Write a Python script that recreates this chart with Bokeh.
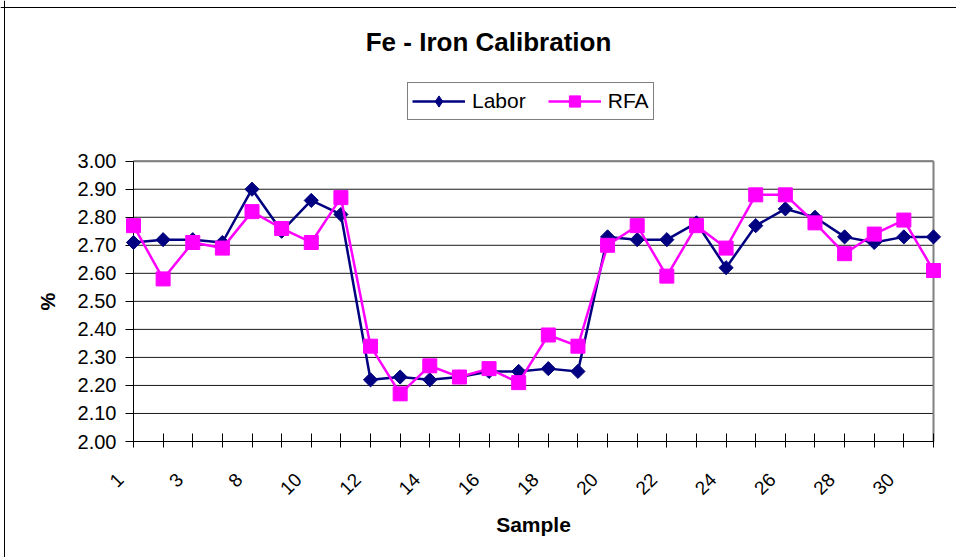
from math import pi
from bokeh.plotting import figure
from bokeh.models import (FixedTicker, NumeralTickFormatter, Label, Legend,
                          LegendItem, Range1d, Span, LinearAxis)
from bokeh.embed import file_html
from bokeh.resources import INLINE

# ---- data -------------------------------------------------------------
sample_labels = ["1", "2", "3", "7", "8", "9", "10", "11", "12", "13", "14",
                 "15", "16", "17", "18", "19", "20", "21", "22", "23", "24",
                 "25", "26", "27", "28", "29", "30", "31"]
labor = [2.71, 2.72, 2.72, 2.71, 2.90, 2.75, 2.86, 2.81, 2.22, 2.23, 2.22,
         2.23, 2.25, 2.25, 2.26, 2.25, 2.73, 2.72, 2.72, 2.78, 2.62, 2.77,
         2.83, 2.80, 2.73, 2.71, 2.73, 2.73]
rfa = [2.77, 2.58, 2.71, 2.69, 2.82, 2.76, 2.71, 2.87, 2.34, 2.17, 2.27,
       2.23, 2.26, 2.21, 2.38, 2.34, 2.70, 2.77, 2.59, 2.77, 2.69, 2.88,
       2.88, 2.78, 2.67, 2.74, 2.79, 2.61]
y_ticks = [2.00, 2.10, 2.20, 2.30, 2.40, 2.50, 2.60, 2.70, 2.80, 2.90, 3.00]
title_text = "Fe - Iron Calibration"
x_title = "Sample"
y_title = "%"

x = list(range(len(sample_labels)))
FONT = "Liberation Sans"
NAVY = "#000080"
MAGENTA = "#FF00FF"
NAN = float("nan")

# ---- layout (pixels) --------------------------------------------------
W, H = 956, 557
PA_LEFT, PA_RIGHT, PA_TOP, PA_BOTTOM = 133.0, 933.0, 160.7, 441.0
ppx = (PA_RIGHT - PA_LEFT) / (x[-1] - x[0])
ppy = (PA_BOTTOM - PA_TOP) / (y_ticks[-1] - y_ticks[0])
x_start = x[0] - PA_LEFT / ppx
x_end = x[-1] + (W - PA_RIGHT) / ppx
y_end = y_ticks[-1] + PA_TOP / ppy
y_start = y_ticks[0] - (H - PA_BOTTOM) / ppy
LABEL_SHIFT = 13 / ppx          # tick labels sit left of their tick

p = figure(width=W, height=H, output_backend="svg", toolbar_location=None,
           title=None,
           x_range=Range1d(x_start, x_end), y_range=Range1d(y_start, y_end),
           min_border=0, min_border_left=0, min_border_right=0,
           min_border_top=0, min_border_bottom=0)
p.extra_x_ranges = {"lab": Range1d(x_start + LABEL_SHIFT, x_end + LABEL_SHIFT)}
p.outline_line_color = None
p.background_fill_color = "white"
p.border_fill_color = "white"
p.xgrid.visible = False
p.ygrid.visible = False

# chart-area border (left and top visible)
p.add_layout(Span(location=4, location_units="screen", dimension="height",
                  line_color="black", line_width=1))
p.add_layout(Span(location=H - 7, location_units="screen", dimension="width",
                  line_color="black", line_width=1))

# gridlines limited to the plot area
p.segment(x0=[x[0]] * len(y_ticks), x1=[x[-1]] * len(y_ticks),
          y0=y_ticks, y1=y_ticks, line_color="#1a1a1a", line_width=1)
# plot-area border (top and right, gray)
p.segment(x0=[x[0], x[-1]], x1=[x[-1], x[-1]],
          y0=[y_ticks[-1], y_ticks[0]], y1=[y_ticks[-1], y_ticks[-1]],
          line_color="#808080", line_width=2)

r1 = p.line(x, labor, line_color=NAVY, line_width=2.5, level="overlay")
r2 = p.scatter(x, labor, marker="square", angle=pi / 4, size=10,
               fill_color=NAVY, line_color=NAVY, level="overlay")
r3 = p.line(x, rfa, line_color=MAGENTA, line_width=2.5, level="overlay")
r4 = p.scatter(x, rfa, marker="square", size=14,
               fill_color=MAGENTA, line_color=MAGENTA, level="overlay")
# legend-only swatch for the diamond marker (no visible point)
r2_leg = p.scatter(x=[NAN], y=[NAN], marker="diamond", size=14,
                   fill_color=NAVY, line_color=NAVY)

# x axis: line and ticks
xa = p.xaxis[0]
xa.fixed_location = y_ticks[0]
xa.ticker = FixedTicker(ticks=x)
xa.major_label_overrides = {i: "" for i in x}
xa.bounds = (x[0], x[-1])
xa.major_tick_in = 8
xa.major_tick_out = 6
xa.minor_tick_line_color = None
xa.axis_line_color = "black"
xa.major_tick_line_color = "black"

# x axis: rotated category labels + title
xl = LinearAxis(x_range_name="lab", fixed_location=y_ticks[0],
                ticker=FixedTicker(ticks=x),
                bounds=(x[0], x[-1] + 2 * LABEL_SHIFT))
xl.major_label_overrides = {i: (lab if i % 2 == 0 else "")
                            for i, lab in enumerate(sample_labels)}
xl.axis_line_color = None
xl.major_tick_line_color = None
xl.minor_tick_line_color = None
xl.major_tick_in = 0
xl.major_tick_out = 6
xl.major_label_orientation = pi / 4
xl.major_label_text_font = FONT
xl.major_label_text_font_size = "19px"
xl.major_label_text_color = "black"
xl.major_label_standoff = 29
xl.axis_label = x_title
xl.axis_label_text_font = FONT
xl.axis_label_text_font_size = "21px"
xl.axis_label_text_font_style = "bold"
xl.axis_label_text_color = "black"
xl.axis_label_standoff = 9
p.add_layout(xl, "below")

ya = p.yaxis[0]
ya.fixed_location = x[0]
ya.ticker = FixedTicker(ticks=y_ticks)
ya.formatter = NumeralTickFormatter(format="0.00")
ya.bounds = (y_ticks[0], y_ticks[-1])
ya.major_label_text_font = FONT
ya.major_label_text_font_size = "20px"
ya.major_label_text_color = "black"
ya.major_label_standoff = 9
ya.major_tick_in = 0
ya.major_tick_out = 8
ya.minor_tick_line_color = None
ya.axis_line_color = "black"
ya.major_tick_line_color = "black"
ya.axis_label = y_title
ya.axis_label_text_font = FONT
ya.axis_label_text_font_size = "20px"
ya.axis_label_text_font_style = "bold"
ya.axis_label_text_color = "black"
ya.axis_label_standoff = 16

# title
p.add_layout(Label(x=488, y=H - 41, x_units="screen", y_units="screen",
                   text=title_text, text_font=FONT, text_font_size="26px",
                   text_font_style="bold", text_align="center",
                   text_baseline="alphabetic", text_color="black"))

# legend
legend = Legend(items=[LegendItem(label="Labor", renderers=[r1, r2_leg]),
                       LegendItem(label="RFA", renderers=[r3, r4])],
                location=(407, H - 120), orientation="horizontal",
                glyph_width=53, glyph_height=28, label_height=20,
                label_standoff=7, spacing=22, padding=4, margin=0,
                label_text_font=FONT, label_text_font_size="21px",
                label_text_color="black",
                border_line_color="black", border_line_width=1,
                background_fill_color="white", background_fill_alpha=1)
p.add_layout(legend, "center")

open("out.html", "w").write(file_html(p, INLINE))
